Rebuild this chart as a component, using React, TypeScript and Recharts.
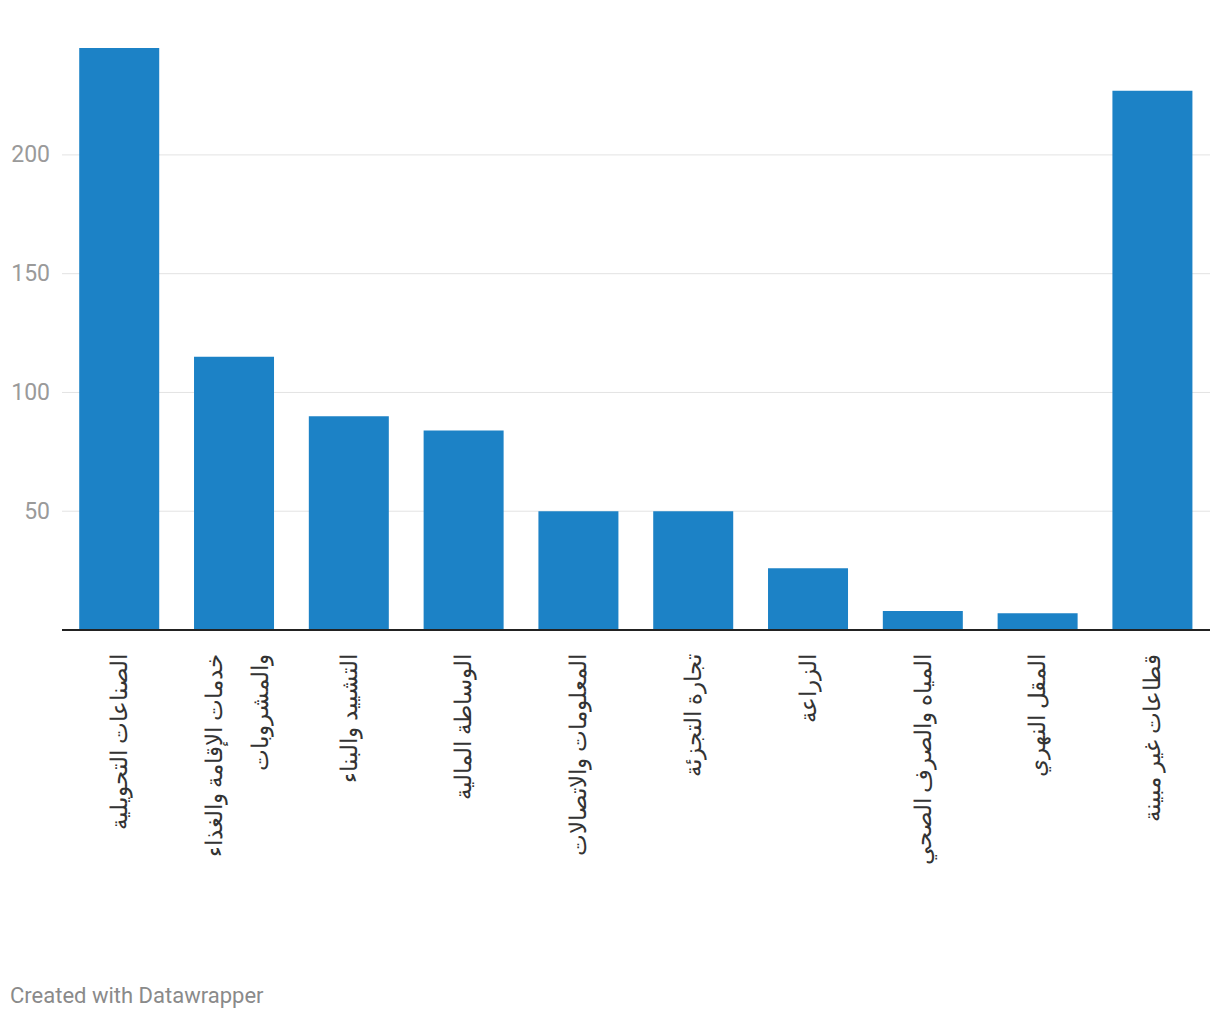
import { BarChart, Bar, XAxis, YAxis, CartesianGrid } from "recharts";

const categories = [
  "الصناعات التحويلية",
  "خدمات الإقامة والغذاء\nوالمشروبات",
  "التشييد والبناء",
  "الوساطة المالية",
  "المعلومات والاتصالات",
  "تجارة التجزئة",
  "الزراعة",
  "المياه والصرف الصحي",
  "المقل النهري",
  "قطاعات غير مبينة",
];

const values = [245, 115, 90, 84, 50, 50, 26, 8, 7, 227];

const yTicks = [0, 50, 100, 150, 200];
const gridValues = [50, 100, 150, 200];

const data = categories.map((name, i) => ({ name, value: values[i] }));

const FONT = "Roboto, 'Noto Sans', sans-serif";

function CategoryTick(props: any) {
  const { x, y, payload } = props;
  const lines = String(payload.value).split("\n");
  const top = y + 16;
  const lineGap = 46;
  const first = -((lines.length - 1) * lineGap) / 2 + (lines.length > 1 ? 3 : 0);
  return (
    <g transform={`rotate(-90, ${x}, ${top})`}>
      {lines.map((line, i) => (
        <text
          key={i}
          x={x}
          y={top + first + i * lineGap}
          textAnchor="end"
          dominantBaseline="central"
          fontSize={23}
          fontFamily={FONT}
          fill="#333"
        >
          {line}
        </text>
      ))}
    </g>
  );
}

function ValueTick(props: any) {
  const { y, payload } = props;
  if (payload.value === 0) return null;
  return (
    <text x={50} y={y} textAnchor="end" dominantBaseline="central" fontSize={23} fontFamily={FONT} fill="#9a9a9a">
      {payload.value}
    </text>
  );
}

export default function App() {
  return (
    <div style={{ position: "absolute", left: 0, top: 0, width: 1220, height: 1020, background: "#fff" }}>
      <BarChart
        width={1220}
        height={940}
        data={data}
        margin={{ top: 48, right: 10, left: 0, bottom: 0 }}
        barCategoryGap="15%"
      >
        <CartesianGrid vertical={false} stroke="#e3e3e3" strokeWidth={1} horizontalValues={gridValues} />
        <YAxis
          width={62}
          domain={[0, 245]}
          ticks={yTicks}
          axisLine={false}
          tickLine={false}
          tick={<ValueTick />}
        />
        <XAxis
          dataKey="name"
          height={310}
          interval={0}
          tickLine={false}
          axisLine={{ stroke: "#222", strokeWidth: 2 }}
          tick={<CategoryTick />}
        />
        <Bar dataKey="value" fill="#1c82c6" isAnimationActive={false} />
      </BarChart>
      <div
        style={{
          position: "absolute",
          left: 10,
          top: 983,
          fontFamily: FONT,
          fontSize: 22,
          color: "#8a8a8a",
        }}
      >
        Created with Datawrapper
      </div>
    </div>
  );
}
